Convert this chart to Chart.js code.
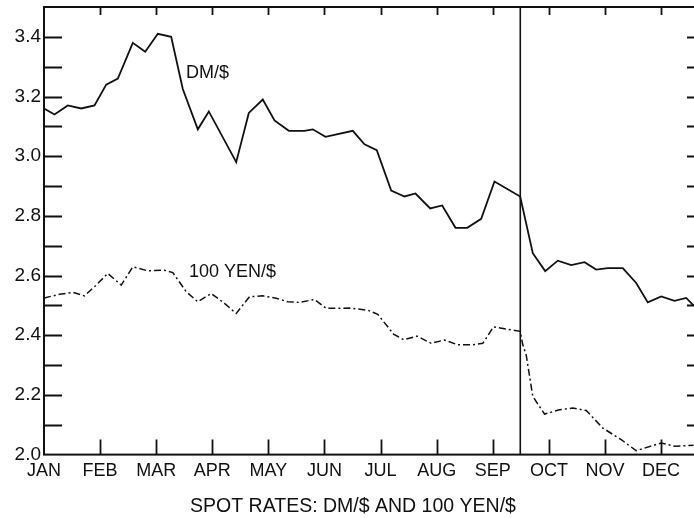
<!DOCTYPE html>
<html>
<head>
<meta charset="utf-8">
<script src="https://cdn.jsdelivr.net/npm/chart.js@4/dist/chart.umd.min.js"></script>
<style>
  html, body { margin: 0; padding: 0; background: #fff; overflow: hidden; }
  canvas { display: block; }
</style>
</head>
<body>
<canvas id="chart" width="700" height="518"></canvas>
<script>
// Month labels along the time axis (x value 0 = start of January)
const MONTHS = ['JAN', 'FEB', 'MAR', 'APR', 'MAY', 'JUN', 'JUL', 'AUG', 'SEP', 'OCT', 'NOV', 'DEC'];

// Rate axis ticks, every 0.1; only the even tenths carry a label
const Y_TICKS = [2.0, 2.1, 2.2, 2.3, 2.4, 2.5, 2.6, 2.7, 2.8, 2.9, 3.0, 3.1, 3.2, 3.3, 3.4, 3.5];
const Y_TICK_LABELS = ['2.0', '2.2', '2.4', '2.6', '2.8', '3.0', '3.2', '3.4'];

// Weekly spot rate, Deutsche marks per dollar (time in months from 1 Jan)
const DM_MONTHS = [0, 0.187, 0.424, 0.663, 0.900, 1.109, 1.316, 1.583, 1.804, 2.029, 2.267, 2.474,
  2.742, 2.938, 3.426, 3.651, 3.900, 4.109, 4.364, 4.643, 4.791, 5.018, 5.504, 5.713, 5.932,
  6.189, 6.426, 6.622, 6.884, 7.098, 7.335, 7.544, 7.793, 8.030, 8.488, 8.713, 8.934, 9.159,
  9.398, 9.635, 9.843, 10.050, 10.317, 10.556, 10.763, 11.002, 11.239, 11.447, 11.578];
const DM_RATES = [3.16, 3.14, 3.17, 3.16, 3.17, 3.24, 3.26, 3.38, 3.35, 3.41, 3.40, 3.225,
  3.09, 3.15, 2.98, 3.145, 3.19, 3.12, 3.085, 3.085, 3.09, 3.065, 3.085, 3.04, 3.02,
  2.885, 2.865, 2.875, 2.825, 2.835, 2.76, 2.76, 2.79, 2.915, 2.865, 2.675, 2.615, 2.65,
  2.635, 2.645, 2.62, 2.625, 2.625, 2.575, 2.51, 2.53, 2.515, 2.525, 2.50];

// Weekly spot rate, hundreds of yen per dollar
const YEN_MONTHS = [0, 0.276, 0.513, 0.722, 0.930, 1.137, 1.376, 1.583, 1.850, 2.148, 2.296, 2.535,
  2.742, 2.980, 3.217, 3.426, 3.663, 3.900, 4.139, 4.346, 4.554, 4.822, 5.030, 5.446, 5.772,
  5.950, 6.230, 6.408, 6.649, 6.902, 7.139, 7.376, 7.644, 7.822, 8.012, 8.488, 8.535, 8.595,
  8.713, 8.922, 9.189, 9.426, 9.665, 9.961, 10.289, 10.556, 11.002, 11.239, 11.578];
const YEN_RATES = [2.525, 2.537, 2.544, 2.532, 2.568, 2.607, 2.568, 2.629, 2.616, 2.618, 2.610, 2.546,
  2.512, 2.540, 2.507, 2.473, 2.529, 2.532, 2.524, 2.512, 2.510, 2.520, 2.490, 2.491, 2.484,
  2.470, 2.404, 2.385, 2.397, 2.373, 2.384, 2.368, 2.368, 2.373, 2.428, 2.413, 2.368, 2.334,
  2.195, 2.136, 2.150, 2.156, 2.148, 2.089, 2.050, 2.013, 2.039, 2.028, 2.031];

// Date of the September policy break, drawn as a full-height rule
const MARKER_MONTH = 8.49;

const X_MIN = 0, X_MAX = 11.64;
const Y_MIN = 2.0, Y_MAX = 3.5;
const INK = '#111';
const FONT = '"Liberation Sans", Arial, sans-serif';

const toPoints = (xs, ys) => xs.map((x, i) => ({ x, y: ys[i] }));

// Frame with inward tick marks, the event rule and the in-plot series names
const framePlugin = {
  id: 'frame',
  afterDatasetsDraw(chart, args, opts) {
    const { ctx, chartArea: { left, right, top, bottom }, scales: { x, y } } = chart;
    ctx.save();
    ctx.strokeStyle = INK;
    ctx.lineWidth = 2;
    ctx.strokeRect(left, top, right - left, bottom - top);

    ctx.lineWidth = 1.8;
    ctx.beginPath();
    Y_TICKS.forEach(v => {
      if (v <= Y_MIN || v >= Y_MAX) return;
      const py = Math.round(y.getPixelForValue(v)) + 0.5;
      ctx.moveTo(left, py); ctx.lineTo(left + 18, py);
      ctx.moveTo(right - 10, py); ctx.lineTo(right, py);
    });
    MONTHS.forEach((_, i) => {
      if (i === 0) return;
      const px = Math.round(x.getPixelForValue(i)) + 0.5;
      ctx.moveTo(px, bottom); ctx.lineTo(px, bottom - 15);
      ctx.moveTo(px, top); ctx.lineTo(px, top + 8);
    });
    ctx.stroke();

    const mx = x.getPixelForValue(MARKER_MONTH);
    ctx.lineWidth = 1.6;
    ctx.beginPath();
    ctx.moveTo(mx, top); ctx.lineTo(mx, bottom);
    ctx.stroke();

    ctx.fillStyle = INK;
    ctx.font = '18px ' + FONT;
    ctx.textAlign = 'left';
    ctx.textBaseline = 'middle';
    opts.labels.forEach(l => {
      ctx.fillText(l.text, x.getPixelForValue(l.x), y.getPixelForValue(l.y));
    });
    ctx.restore();
  }
};

new Chart(document.getElementById('chart'), {
  type: 'line',
  data: {
    datasets: [
      {
        label: 'DM/$',
        data: toPoints(DM_MONTHS, DM_RATES),
        borderColor: INK,
        borderWidth: 1.8,
        pointRadius: 0,
        tension: 0,
        fill: false
      },
      {
        label: '100 YEN/$',
        data: toPoints(YEN_MONTHS, YEN_RATES),
        borderColor: INK,
        borderWidth: 1.5,
        borderDash: [7, 3, 2, 3],
        pointRadius: 0,
        tension: 0,
        fill: false
      }
    ]
  },
  options: {
    responsive: false,
    animation: false,
    devicePixelRatio: 1,
    layout: { padding: { top: 7, right: 3, left: 9, bottom: 0 } },
    plugins: {
      legend: { display: false },
      tooltip: { enabled: false },
      title: {
        display: true,
        position: 'bottom',
        text: 'SPOT RATES: DM/$ AND 100 YEN/$',
        color: INK,
        font: { family: FONT, size: 19.5, weight: 'normal' },
        padding: { top: 0, bottom: 0 }
      },
      frame: {
        labels: [
          { text: 'DM/$', x: 2.53, y: 3.279 },
          { text: '100 YEN/$', x: 2.585, y: 2.613 }
        ]
      }
    },
    scales: {
      x: {
        type: 'linear',
        min: X_MIN,
        max: X_MAX,
        grid: { display: false, drawTicks: false },
        border: { display: false },
        afterBuildTicks: s => { s.ticks = MONTHS.map((_, i) => ({ value: i })); },
        afterFit: s => { s.height = 40; s.paddingLeft = 0; s.paddingRight = 0; },
        ticks: {
          callback: v => MONTHS[v] ?? '',
          autoSkip: false,
          maxRotation: 0,
          padding: 6,
          color: INK,
          font: { family: FONT, size: 18 }
        }
      },
      y: {
        type: 'linear',
        min: Y_MIN,
        max: Y_MAX,
        grid: { display: false, drawTicks: false },
        border: { display: false },
        afterBuildTicks: s => { s.ticks = Y_TICKS.map(v => ({ value: v })); },
        afterFit: s => { s.width = 35; s.paddingTop = 0; s.paddingBottom = 0; },
        ticks: {
          callback: v => {
            const t = v.toFixed(1);
            return Y_TICK_LABELS.includes(t) ? t : '';
          },
          autoSkip: false,
          padding: 3,
          color: INK,
          font: { family: FONT, size: 19 }
        }
      }
    }
  },
  plugins: [framePlugin]
});
</script>
</body>
</html>
